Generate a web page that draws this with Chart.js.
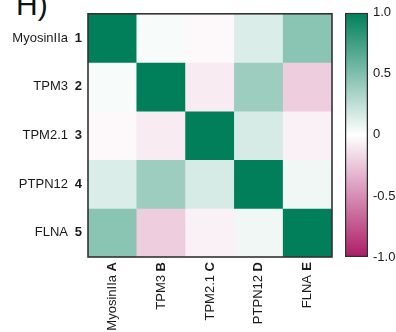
<!DOCTYPE html>
<html lang="en">
<head>
  <meta charset="UTF-8">
  <title>Correlation heatmap</title>
  <script src="https://cdn.jsdelivr.net/npm/chart.js"></script>
  <style>
    body { margin: 0; width: 396px; height: 332px; overflow: hidden; background: #fff; font-family: 'Liberation Sans', Arial, sans-serif; position: relative; }
    #panel { position: absolute; left: 16px; top: -10px; font-size: 30px; line-height: 1; color: #111; }
    #heatBox { position: absolute; left: 0; top: 0; width: 340px; height: 332px; }
    #barBox { position: absolute; left: 336px; top: 0; width: 60px; height: 332px; }
  </style>
</head>
<body>
  <div id="panel">H)</div>
  <div id="heatBox"><canvas id="heatmap"></canvas></div>
  <div id="barBox"><canvas id="colorbar"></canvas></div>

  <script>
    // labels
    const rowNames = ['MyosinIIa', 'TPM3', 'TPM2.1', 'PTPN12', 'FLNA'];
    const rowNums = [1, 2, 3, 4, 5];
    const colNames = ['MyosinIIa', 'TPM3', 'TPM2.1', 'PTPN12', 'FLNA'];
    const colLetters = ['A', 'B', 'C', 'D', 'E'];

    // correlation values, one array per row
    const corrMyosin = [1.00, 0.03, -0.03, 0.14, 0.46];
    const corrTpm3   = [0.03, 1.00, -0.09, 0.39, -0.22];
    const corrTpm21  = [-0.03, -0.09, 1.00, 0.16, -0.06];
    const corrPtpn12 = [0.14, 0.39, 0.16, 1.00, 0.06];
    const corrFlna   = [0.46, -0.22, -0.06, 0.06, 1.00];
    const rows = [corrMyosin, corrTpm3, corrTpm21, corrPtpn12, corrFlna];

    // colour scale
    const scaleTicks = [1, 0.5, 0, -0.5, -1];
    const posColor = [0, 127, 90];
    const negColor = [172, 28, 104];
    const midColor = [255, 255, 255];

    const font = "'Liberation Sans', Arial, sans-serif";
    const ink = '#1a1a1a';

    function colorFor(v) {
      const end = v >= 0 ? posColor : negColor;
      const t = Math.min(1, Math.abs(v));
      const c = midColor.map((m, i) => Math.round(m + (end[i] - m) * t));
      return `rgb(${c[0]},${c[1]},${c[2]})`;
    }

    const frame = {
      id: 'frame',
      afterDatasetsDraw(chart) {
        const a = chart.chartArea, ctx = chart.ctx;
        ctx.save();
        ctx.strokeStyle = '#333';
        ctx.lineWidth = 1.6;
        ctx.strokeRect(a.left, a.top, a.right - a.left, a.bottom - a.top);
        ctx.restore();
      }
    };

    const datasets = rows.map((vals, r) => ({
      data: vals.map(() => [rowNums[r] - 0.5, rowNums[r] + 0.5]),
      backgroundColor: vals.map(colorFor),
      borderWidth: 0,
      grouped: false,
      barPercentage: 1,
      categoryPercentage: 1
    }));

    new Chart(document.getElementById('heatmap'), {
      type: 'bar',
      data: { labels: colLetters, datasets },
      plugins: [frame],
      options: {
        responsive: true,
        maintainAspectRatio: false,
        animation: false,
        layout: { padding: { left: 0, top: 13, right: 8, bottom: 0 } },
        plugins: { legend: { display: false }, tooltip: { enabled: false } },
        scales: {
          x: {
            position: 'bottom', weight: 0,
            grid: { display: false, drawTicks: false }, border: { display: false },
            ticks: { minRotation: 90, maxRotation: 90, padding: 5, color: ink, font: { family: font, size: 13, weight: 'bold' } },
            afterFit: s => { s.height = 14; }
          },
          xName: {
            type: 'category', labels: colNames, offset: true,
            position: 'bottom', weight: 1,
            grid: { display: false, drawTicks: false }, border: { display: false },
            ticks: { minRotation: 90, maxRotation: 90, padding: 4, color: ink, font: { family: font, size: 13 } },
            afterFit: s => { s.height = 61; }
          },
          y: {
            type: 'linear', position: 'left', weight: 0,
            min: 0.5, max: 5.5, reverse: true,
            grid: { display: false, drawTicks: false }, border: { display: false },
            afterBuildTicks: s => { s.ticks = rowNums.map(v => ({ value: v })); },
            ticks: { padding: 6, color: ink, font: { family: font, size: 13, weight: 'bold' }, callback: v => String(v) },
            afterFit: s => { s.width = 14; }
          },
          yName: {
            type: 'linear', position: 'left', weight: 1,
            min: 0.5, max: 5.5, reverse: true,
            grid: { display: false, drawTicks: false }, border: { display: false },
            afterBuildTicks: s => { s.ticks = rowNums.map(v => ({ value: v })); },
            ticks: { padding: 6, color: ink, font: { family: font, size: 13 }, callback: v => rowNames[v - 1] },
            afterFit: s => { s.width = 74; }
          }
        }
      }
    });

    // colour bar
    const tickMarks = [0.5, 0, -0.5];
    const fmt = v => (v === 0 ? '0' : v.toFixed(1));

    new Chart(document.getElementById('colorbar'), {
      type: 'bar',
      data: {
        labels: [''],
        datasets: [{
          data: [[-1, 1]],
          backgroundColor: ctx => {
            const chart = ctx.chart;
            if (!chart.chartArea) return 'transparent';
            const ys = chart.scales.y;
            const g = chart.ctx.createLinearGradient(0, ys.getPixelForValue(1), 0, ys.getPixelForValue(-1));
            scaleTicks.forEach(v => g.addColorStop((1 - v) / 2, colorFor(v)));
            return g;
          },
          borderColor: '#2e2e2e',
          borderWidth: 1.6,
          borderSkipped: false,
          barPercentage: 1,
          categoryPercentage: 1
        }]
      },
      options: {
        responsive: true,
        maintainAspectRatio: false,
        animation: false,
        layout: { padding: { left: 9, top: 12, right: 0, bottom: 75 } },
        plugins: { legend: { display: false }, tooltip: { enabled: false } },
        scales: {
          x: { display: false },
          y: {
            type: 'linear', position: 'right', weight: 1,
            min: -1, max: 1,
            grid: { display: false, drawTicks: false }, border: { display: false },
            afterBuildTicks: s => { s.ticks = scaleTicks.map(v => ({ value: v })); },
            ticks: { padding: 5, color: ink, font: { family: font, size: 13 }, callback: v => fmt(v) },
            afterFit: s => { s.width = 28; }
          },
          yTickR: {
            type: 'linear', position: 'right', weight: 0,
            min: -1, max: 1,
            grid: { display: true, drawOnChartArea: false, drawTicks: true, tickLength: -4, tickColor: '#2e2e2e', tickWidth: 1.4 },
            border: { display: false },
            afterBuildTicks: s => { s.ticks = tickMarks.map(v => ({ value: v })); },
            ticks: { display: false },
            afterFit: s => { s.width = 0; }
          },
          yTickL: {
            type: 'linear', position: 'left',
            min: -1, max: 1,
            grid: { display: true, drawOnChartArea: false, drawTicks: true, tickLength: -4, tickColor: '#2e2e2e', tickWidth: 1.4 },
            border: { display: false },
            afterBuildTicks: s => { s.ticks = tickMarks.map(v => ({ value: v })); },
            ticks: { display: false },
            afterFit: s => { s.width = 0; }
          }
        }
      }
    });
  </script>
</body>
</html>
